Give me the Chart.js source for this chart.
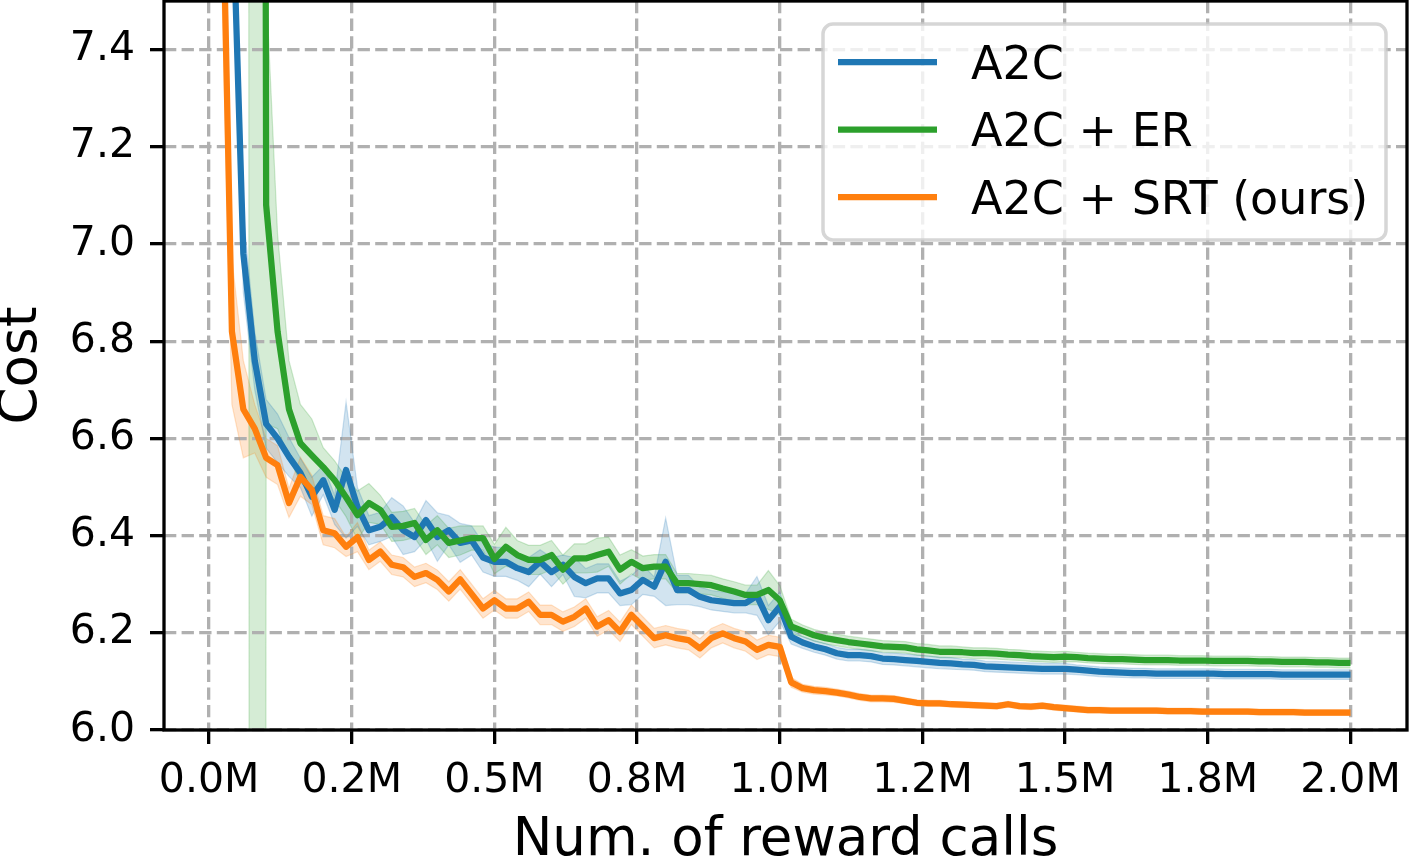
<!DOCTYPE html>
<html>
<head>
<meta charset="utf-8">
<title>Cost vs. number of reward calls</title>
<script src="https://cdn.jsdelivr.net/npm/chart.js@4.4.1/dist/chart.umd.min.js"></script>
<style>
  html, body { margin: 0; padding: 0; background: #ffffff; }
  #wrap { width: 1410px; height: 859px; }
</style>
</head>
<body>
<div id="wrap"><canvas id="chart" width="1410" height="859"></canvas></div>
<script>
// Cost curves for A2C variants, mean line + shaded spread.
// Values; one sample every 20k reward calls.

const SERIES_NAMES = ["A2C", "A2C + ER", "A2C + SRT (ours)"];

// reward-call checkpoints (millions): 0.02, 0.04, ... 2.00
const STEPS = Array.from({ length: 100 }, (_, i) => +((i + 1) * 0.02).toFixed(2));

const X_TICKS = [0, 0.25, 0.5, 0.75, 1.0, 1.25, 1.5, 1.75, 2.0];
const X_TICK_LABELS = ["0.0M", "0.2M", "0.5M", "0.8M", "1.0M", "1.2M", "1.5M", "1.8M", "2.0M"];
const Y_TICKS = [6.0, 6.2, 6.4, 6.6, 6.8, 7.0, 7.2, 7.4];

const A2C_MEAN = [
  9.0, 7.75, 6.98, 6.76, 6.63, 6.60, 6.562, 6.529, 6.48, 6.514,
  6.453, 6.535, 6.459, 6.411, 6.418, 6.438, 6.411, 6.397, 6.432, 6.397,
  6.411, 6.385, 6.39, 6.355, 6.346, 6.346, 6.333, 6.325, 6.346, 6.325,
  6.34, 6.315, 6.302, 6.312, 6.312, 6.281, 6.288, 6.309, 6.295, 6.346,
  6.288, 6.288, 6.274, 6.267, 6.264, 6.261, 6.261, 6.276, 6.226, 6.254,
  6.192, 6.18, 6.172, 6.166, 6.158, 6.154, 6.154, 6.152, 6.147, 6.146,
  6.144, 6.142, 6.140, 6.138, 6.137, 6.135, 6.134, 6.131, 6.130, 6.129,
  6.128, 6.127, 6.126, 6.126, 6.126, 6.124, 6.122, 6.120, 6.119, 6.118,
  6.117, 6.117, 6.116, 6.116, 6.116, 6.116, 6.116, 6.116, 6.115, 6.115,
  6.115, 6.115, 6.115, 6.114, 6.114, 6.114, 6.114, 6.114, 6.114, 6.114,
];
const A2C_STD = [
  0.1, 0.1, 0.08, 0.06, 0.05, 0.05, 0.04, 0.03, 0.04, 0.03,
  0.03, 0.14, 0.04, 0.03, 0.03, 0.04, 0.05, 0.03, 0.04, 0.05,
  0.03, 0.04, 0.03, 0.03, 0.03, 0.03, 0.025, 0.03, 0.025, 0.03,
  0.02, 0.04, 0.03, 0.03, 0.03, 0.025, 0.03, 0.03, 0.02, 0.09,
  0.03, 0.03, 0.02, 0.02, 0.02, 0.02, 0.02, 0.04, 0.03, 0.03,
  0.015, 0.012, 0.012, 0.012, 0.012, 0.012, 0.012, 0.012, 0.012, 0.012,
  0.012, 0.012, 0.012, 0.012, 0.012, 0.011, 0.011, 0.011, 0.011, 0.011,
  0.011, 0.011, 0.011, 0.011, 0.011, 0.01, 0.01, 0.01, 0.01, 0.01,
  0.01, 0.01, 0.01, 0.01, 0.01, 0.01, 0.01, 0.01, 0.01, 0.01,
  0.01, 0.01, 0.01, 0.01, 0.01, 0.01, 0.01, 0.01, 0.01, 0.01,
];

const ER_MEAN = [
  40, 44, 45, 19, 7.08, 6.82, 6.66, 6.59, 6.565, 6.541,
  6.514, 6.479, 6.442, 6.467, 6.453, 6.418, 6.42, 6.426, 6.391, 6.411,
  6.385, 6.39, 6.395, 6.395, 6.352, 6.377, 6.36, 6.35, 6.35, 6.36,
  6.33, 6.353, 6.353, 6.36, 6.367, 6.33, 6.346, 6.333, 6.336, 6.336,
  6.302, 6.302, 6.30, 6.298, 6.291, 6.285, 6.278, 6.278, 6.288, 6.267,
  6.213, 6.204, 6.195, 6.189, 6.185, 6.181, 6.178, 6.175, 6.172, 6.171,
  6.170, 6.166, 6.164, 6.161, 6.161, 6.160, 6.158, 6.158, 6.157, 6.155,
  6.154, 6.152, 6.151, 6.150, 6.151, 6.150, 6.148, 6.147, 6.146, 6.146,
  6.145, 6.144, 6.144, 6.144, 6.143, 6.143, 6.143, 6.142, 6.142, 6.142,
  6.142, 6.141, 6.141, 6.140, 6.140, 6.140, 6.139, 6.139, 6.138, 6.138,
];
const ER_STD = [
  3, 3, 3, 49, 0.45, 0.2, 0.1, 0.08, 0.075, 0.04,
  0.04, 0.04, 0.05, 0.04, 0.03, 0.03, 0.03, 0.03, 0.03, 0.03,
  0.03, 0.03, 0.025, 0.025, 0.03, 0.04, 0.03, 0.03, 0.03, 0.03,
  0.03, 0.03, 0.03, 0.035, 0.03, 0.03, 0.025, 0.025, 0.025, 0.025,
  0.02, 0.02, 0.02, 0.02, 0.02, 0.02, 0.02, 0.02, 0.04, 0.03,
  0.015, 0.012, 0.012, 0.012, 0.012, 0.012, 0.012, 0.012, 0.012, 0.012,
  0.012, 0.012, 0.012, 0.012, 0.012, 0.011, 0.011, 0.011, 0.011, 0.011,
  0.011, 0.011, 0.011, 0.011, 0.011, 0.01, 0.01, 0.01, 0.01, 0.01,
  0.01, 0.01, 0.01, 0.01, 0.01, 0.01, 0.01, 0.01, 0.01, 0.01,
  0.01, 0.01, 0.01, 0.01, 0.01, 0.01, 0.01, 0.01, 0.01, 0.01,
];

const SRT_MEAN = [
  7.95, 6.82, 6.66, 6.62, 6.56, 6.545, 6.467, 6.521, 6.494, 6.411,
  6.405, 6.377, 6.397, 6.35, 6.367, 6.34, 6.335, 6.315, 6.323, 6.309,
  6.285, 6.31, 6.28, 6.25, 6.267, 6.25, 6.25, 6.264, 6.237, 6.237,
  6.223, 6.233, 6.25, 6.213, 6.226, 6.202, 6.237, 6.213, 6.189, 6.195,
  6.189, 6.185, 6.168, 6.189, 6.199, 6.189, 6.182, 6.165, 6.175, 6.171,
  6.098, 6.086, 6.082, 6.080, 6.077, 6.073, 6.068, 6.065, 6.065, 6.064,
  6.060, 6.056, 6.055, 6.055, 6.053, 6.052, 6.051, 6.050, 6.049, 6.053,
  6.049, 6.048, 6.050, 6.047, 6.045, 6.043, 6.041, 6.041, 6.040, 6.040,
  6.040, 6.040, 6.040, 6.039, 6.039, 6.039, 6.038, 6.038, 6.038, 6.038,
  6.038, 6.037, 6.037, 6.037, 6.037, 6.036, 6.036, 6.036, 6.036, 6.036,
];
const SRT_STD = [
  0.3, 0.15, 0.1, 0.05, 0.04, 0.04, 0.03, 0.04, 0.03, 0.03,
  0.03, 0.02, 0.03, 0.02, 0.02, 0.02, 0.02, 0.02, 0.02, 0.02,
  0.02, 0.02, 0.02, 0.02, 0.02, 0.02, 0.02, 0.02, 0.02, 0.02,
  0.02, 0.02, 0.02, 0.02, 0.02, 0.02, 0.02, 0.02, 0.02, 0.02,
  0.02, 0.02, 0.02, 0.02, 0.02, 0.02, 0.02, 0.02, 0.02, 0.02,
  0.01, 0.008, 0.008, 0.008, 0.007, 0.007, 0.007, 0.007, 0.007, 0.007,
  0.006, 0.006, 0.006, 0.006, 0.006, 0.006, 0.006, 0.006, 0.006, 0.006,
  0.006, 0.006, 0.006, 0.006, 0.006, 0.006, 0.006, 0.006, 0.006, 0.006,
  0.006, 0.006, 0.006, 0.006, 0.006, 0.006, 0.006, 0.006, 0.006, 0.006,
  0.006, 0.006, 0.006, 0.006, 0.006, 0.006, 0.006, 0.006, 0.006, 0.006,
];

const FONT = "'DejaVu Sans', 'Liberation Sans', sans-serif";
const GRID = "#b0b0b0";
const LINE_W = 6.25;
const SPINE_W = 3.3;

const PALETTE = [
  { line: "#1f77b4", band: "rgba(31,119,180,0.2)", edge: "rgba(31,119,180,0.22)" },
  { line: "#2ca02c", band: "rgba(44,160,44,0.2)", edge: "rgba(44,160,44,0.22)" },
  { line: "#ff7f0e", band: "rgba(255,127,14,0.2)", edge: "rgba(255,127,14,0.22)" },
];

function points(mean, std, sign) {
  return mean.map((m, i) => ({ x: STEPS[i], y: m + sign * std[i] }));
}

function bandSets(mean, std, pal) {
  const common = {
    borderColor: pal.edge,
    borderWidth: 1.2,
    pointRadius: 0,
    tension: 0,
    order: 10,
  };
  return [
    { ...common, data: points(mean, std, 1), fill: "+1", backgroundColor: pal.band },
    { ...common, data: points(mean, std, -1), fill: false },
  ];
}

function meanSet(label, mean, pal, order) {
  return {
    label,
    isMean: true,
    data: points(mean, mean.map(() => 0), 0),
    borderColor: pal.line,
    backgroundColor: pal.line,
    borderWidth: LINE_W,
    borderJoinStyle: "round",
    borderCapStyle: "butt",
    pointRadius: 0,
    tension: 0,
    fill: false,
    order,
  };
}

// matplotlib-style full box around the axes
const spines = {
  id: "spines",
  afterDatasetsDraw(chart) {
    const { ctx, chartArea: a } = chart;
    ctx.save();
    ctx.strokeStyle = "#000";
    ctx.lineWidth = SPINE_W;
    ctx.strokeRect(a.left, a.top, a.right - a.left, a.bottom - a.top);
    ctx.restore();
  },
};

// legend in the upper right corner, inside the axes
const boxLegend = {
  id: "boxLegend",
  afterDraw(chart) {
    const { ctx, chartArea: a } = chart;
    const w = 563, h = 216;
    const x0 = a.right - 21 - w;
    const y0 = a.top + 23;
    ctx.save();
    ctx.beginPath();
    ctx.roundRect(x0, y0, w, h, 10);
    ctx.fillStyle = "rgba(255,255,255,0.8)";
    ctx.fill();
    ctx.lineWidth = 3.5;
    ctx.strokeStyle = "rgba(204,204,204,0.8)";
    ctx.stroke();

    const items = chart.data.datasets.filter((d) => d.isMean);
    ctx.font = `46px ${FONT}`;
    ctx.textBaseline = "alphabetic";
    ctx.textAlign = "left";
    items.forEach((d, i) => {
      const ly = y0 + 38 + i * 67.5;
      ctx.beginPath();
      ctx.moveTo(x0 + 15, ly);
      ctx.lineTo(x0 + 114, ly);
      ctx.strokeStyle = d.borderColor;
      ctx.lineWidth = LINE_W;
      ctx.stroke();
      ctx.fillStyle = "#000";
      ctx.fillText(d.label, x0 + 148, ly + 16.5);
    });
    ctx.restore();
  },
};

const axisGrid = {
  color: GRID,
  lineWidth: SPINE_W,
  tickColor: "#000",
  tickWidth: SPINE_W,
  tickLength: 14,
  tickBorderDash: [],
};

// pin the axes box: no extra room for half-labels at the ends
function noEdgePadding(s) {
  s.paddingTop = 0;
  s.paddingBottom = 0;
  s.paddingLeft = 0;
  s.paddingRight = 0;
}

new Chart(document.getElementById("chart"), {
  type: "line",
  data: {
    datasets: [
      ...bandSets(A2C_MEAN, A2C_STD, PALETTE[0]),
      ...bandSets(ER_MEAN, ER_STD, PALETTE[1]),
      ...bandSets(SRT_MEAN, SRT_STD, PALETTE[2]),
      meanSet(SERIES_NAMES[0], A2C_MEAN, PALETTE[0], 3),
      meanSet(SERIES_NAMES[1], ER_MEAN, PALETTE[1], 2),
      meanSet(SERIES_NAMES[2], SRT_MEAN, PALETTE[2], 1),
    ],
  },
  options: {
    responsive: false,
    devicePixelRatio: 1,
    animation: false,
    events: [],
    layout: { padding: { top: 1, right: 3, left: 0, bottom: 0 } },
    plugins: {
      legend: { display: false },
      tooltip: { enabled: false },
      filler: { drawTime: "beforeDraw" },
    },
    scales: {
      x: {
        type: "linear",
        min: -0.079,
        max: 2.099,
        afterBuildTicks: (s) => { s.ticks = X_TICKS.map((v) => ({ value: v })); },
        afterFit: (s) => { s.height = 129; noEdgePadding(s); },
        ticks: {
          autoSkip: false,
          maxRotation: 0,
          color: "#000",
          padding: 13,
          font: { family: FONT, size: 41 },
          callback: (v, i) => X_TICK_LABELS[i],
        },
        grid: axisGrid,
        border: { display: false, dash: [12.3, 5.3] },
        title: {
          display: true,
          text: "Num. of reward calls",
          color: "#000",
          font: { family: FONT, size: 53, lineHeight: 0.8 },
          padding: { top: 0, bottom: -3 },
        },
      },
      y: {
        type: "linear",
        min: 6.0,
        max: 7.5,
        afterBuildTicks: (s) => { s.ticks = Y_TICKS.map((v) => ({ value: v })); },
        afterFit: (s) => { s.width = 164; noEdgePadding(s); },
        ticks: {
          color: "#000",
          padding: 15,
          font: { family: FONT, size: 41 },
          callback: (v) => Number(v).toFixed(1),
        },
        grid: axisGrid,
        border: { display: false, dash: [12.3, 5.3] },
        title: {
          display: true,
          text: "Cost",
          color: "#000",
          font: { family: FONT, size: 53, lineHeight: 0.8 },
          padding: { top: 1, bottom: 0 },
        },
      },
    },
  },
  plugins: [spines, boxLegend],
});
</script>
</body>
</html>
